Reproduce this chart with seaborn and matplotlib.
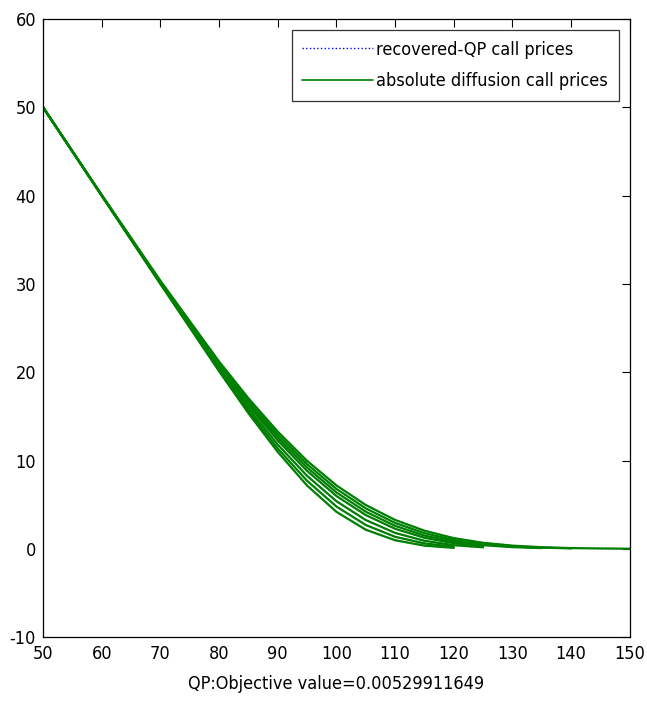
import pandas as pd
import matplotlib
matplotlib.use("Agg")
import matplotlib.pyplot as plt
from matplotlib.lines import Line2D
import seaborn as sns

# strike grid and call prices (one list per maturity)
strikes = [50, 60, 70, 80, 85, 90, 95, 100, 105, 110, 115, 120, 125, 130, 135, 140, 145, 150]

price_t1 = [50.00, 40.00, 30.01, 20.11, 15.36, 10.97, 7.16, 4.19, 2.16, 0.97, 0.36, 0.11]
price_t2 = [50.00, 40.00, 30.02, 20.24, 15.61, 11.36, 7.70, 4.79, 2.70, 1.36, 0.61, 0.24]
price_t3 = [50.00, 40.01, 30.06, 20.41, 15.91, 11.80, 8.26, 5.39, 3.26, 1.80, 0.91, 0.41, 0.17]
price_t4 = [50.00, 40.02, 30.13, 20.64, 16.25, 12.27, 8.82, 5.98, 3.82, 2.27, 1.25, 0.64, 0.30]
price_t5 = [50.00, 40.03, 30.19, 20.81, 16.50, 12.60, 9.20, 6.38, 4.20, 2.60, 1.50, 0.81, 0.41, 0.19, 0.08]
price_t6 = [50.01, 40.05, 30.27, 21.00, 16.77, 12.93, 9.58, 6.78, 4.58, 2.93, 1.77, 1.00, 0.54, 0.27, 0.13, 0.05]
price_t7 = [50.01, 40.08, 30.36, 21.21, 17.05, 13.27, 9.96, 7.18, 4.96, 3.27, 2.05, 1.21, 0.68, 0.36, 0.18, 0.08, 0.04, 0.01]

curves = [price_t1, price_t2, price_t3, price_t4, price_t5, price_t6, price_t7]

rows = []
for i, prices in enumerate(curves):
    for k, p in zip(strikes, prices):
        rows.append({"curve": i, "strike": k, "price": p})
df = pd.DataFrame(rows)

sns.set_style("white")
plt.rcParams["font.family"] = ["Liberation Sans Narrow", "DejaVu Sans"]
plt.rcParams["font.stretch"] = "condensed"
plt.rcParams["axes.unicode_minus"] = False
plt.rcParams["text.color"] = "black"
plt.rcParams["axes.labelcolor"] = "black"

fig = plt.figure(figsize=(6.47, 7.04), dpi=100)
ax = fig.add_axes([0.0665, 0.095, 0.907, 0.878])

green = (0.0, 0.5, 0.0)
blue = (0.0, 0.0, 1.0)

# recovered-QP prices (dotted, underneath) and model prices (solid green)
sns.lineplot(data=df, x="strike", y="price", units="curve", estimator=None,
             color=blue, linestyle=":", lw=1.0, ax=ax, legend=False)
sns.lineplot(data=df, x="strike", y="price", units="curve", estimator=None,
             color=green, lw=1.6, ax=ax, legend=False)

ax.set_xlim(50, 150)
ax.set_ylim(-10, 60)
ax.set_xticks(range(50, 151, 10))
ax.set_yticks(range(-10, 61, 10))
ax.tick_params(direction="in", length=6, width=0.8, top=True, right=True,
               labelsize=13, colors="black")
ax.tick_params(axis="y", pad=5)
ax.tick_params(axis="x", pad=6)
for sp in ax.spines.values():
    sp.set_visible(True)
    sp.set_color("black")
    sp.set_linewidth(0.9)

ax.set_xlabel("QP:Objective value=0.00529911649", fontsize=13, labelpad=8)
ax.set_ylabel("")

handles = [Line2D([], [], color=blue, linestyle=":", lw=1.0),
           Line2D([], [], color=green, lw=1.2)]
leg = ax.legend(handles, ["recovered-QP call prices", "absolute diffusion call prices"],
                loc="upper right", fontsize=13, frameon=True, fancybox=False,
                handlelength=3.9, handletextpad=0.2, borderpad=0.6, labelspacing=0.75,
                borderaxespad=0.6)
leg.get_frame().set_edgecolor("black")
leg.get_frame().set_linewidth(0.9)

plt.savefig("out.png", dpi=100)
